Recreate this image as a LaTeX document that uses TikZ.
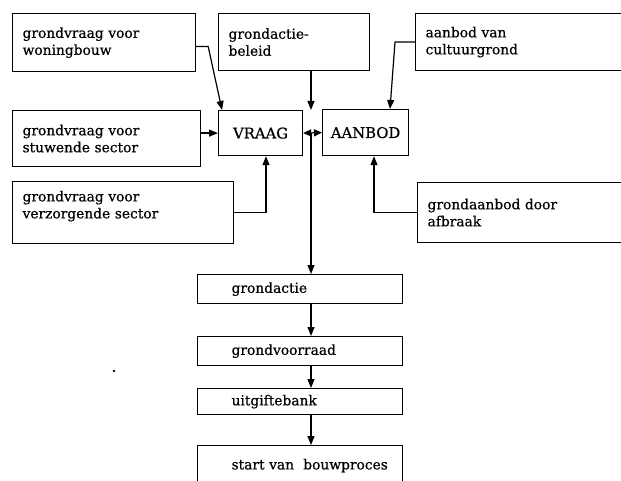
\documentclass[tikz,border=0pt]{standalone}
\usepackage{fontspec}
\usetikzlibrary{arrows.meta}
\newfontfamily\tekstfont[FakeBold=0.6]{DejaVu Serif}

\tikzset{
	blok/.style={draw, line width=1.2pt, anchor=north west, inner xsep=10pt, inner ysep=0pt, align=left,
		font=\tekstfont\fontsize{13.8}{17}\selectfont},
	kern/.style={blok, align=center, inner xsep=3pt, font=\tekstfont\fontsize{14.8}{17}\selectfont},
	balk/.style={blok, text width=185pt, minimum height=29pt, execute at begin node={\hspace*{24pt}}},
	pijl/.style={line width=1.2pt, -{Triangle[length=9pt,width=7pt]}},
}

\begin{document}
\begin{tikzpicture}[x=1pt,y=-1pt]
		\useasboundingbox (0,0) rectangle (621,481);
		\clip (0,0) rectangle (621,481);

		\node[blok, text width=163pt, minimum height=58pt] (woningbouw) at (12,13) {grondvraag voor\\woningbouw};
		\node[blok, text width=131pt, minimum height=57pt] (beleid) at (218,13) {grondactie-\\beleid};
		\node[blok, text width=220pt, minimum height=57pt] (cultuur) at (415,13) {aanbod van\\cultuurgrond};

		\node[blok, text width=168pt, minimum height=56pt] (stuwend) at (12,110) {grondvraag voor\\stuwende sector};
		\node[kern, minimum width=84pt, minimum height=45pt] (vraag) at (218,110) {VRAAG};
		\node[kern, minimum width=86pt, minimum height=46pt] (aanbod) at (322,109) {AANBOD};

		\node[blok, text width=201pt, minimum height=62pt] (verzorg) at (12,181) {grondvraag voor\\verzorgende sector\rule[-16pt]{0pt}{1pt}};
		\node[blok, text width=220pt, minimum height=60pt] (afbraak) at (417,182) {grondaanbod door\\afbraak};

		\node[balk] (actie) at (197,274) {grondactie};
		\node[balk] (voorraad) at (197,336) {grondvoorraad};
		\node[balk, minimum height=26pt] (uitgifte) at (197,388) {uitgiftebank};
		\node[balk, minimum height=40pt] (bouw) at (197,445) {start van~~bouwproces};

		\coordinate (kruis) at (311,133);

		% vraag
		\draw[pijl] ([yshift=-4pt]woningbouw.east) -- ++(12,0) -- ([xshift=4pt]vraag.north west);
		\draw[pijl] (stuwend.east |- vraag.west) -- (vraag.west);
		\draw[pijl] (verzorg.east) -| ([xshift=48pt]vraag.south west);

		% aanbod
		\draw[pijl] (cultuur.west) -- ++(-20,0) -- ([xshift=68pt]aanbod.north west);
		\draw[pijl] (afbraak.west) -| ([xshift=52pt]aanbod.south west);

		\draw[pijl] (beleid.south -| kruis) -- (kruis |- vraag.north);
		\draw[line width=1.2pt, {Triangle[length=8pt,width=7pt]}-{Triangle[length=8pt,width=7pt]}] (vraag.east) -- (aanbod.west);

		\draw[pijl] (kruis) -- (actie.north -| kruis);
		\draw[pijl] (actie.south -| kruis) -- (voorraad.north -| kruis);
		\draw[pijl] (voorraad.south -| kruis) -- (uitgifte.north -| kruis);
		\draw[pijl] (uitgifte.south -| kruis) -- (bouw.north -| kruis);

		\fill (114,371) circle (1.3pt);
	\end{tikzpicture}
\end{document}
